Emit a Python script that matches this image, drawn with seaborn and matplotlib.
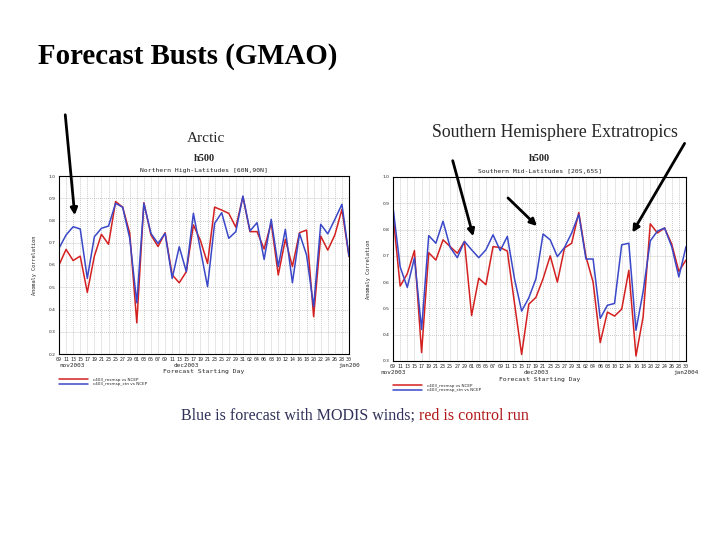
import numpy as np
import matplotlib.pyplot as plt
import pandas as pd
import seaborn as sns

sns.set_style("white")
plt.rcParams['font.family'] = ['DejaVu Sans']

# forecast starting days (every 2 days, 09 nov 2003 .. 30 jan 2004)
day_labels = ['09', '11', '13', '15', '17', '19', '21', '23', '25', '27', '29',
              '01', '03', '05', '07', '09', '11', '13', '15', '17', '19', '21',
              '23', '25', '27', '29', '31',
              '02', '04', '06', '08', '10', '12', '14', '16', '18', '20', '22',
              '24', '26', '28', '30']

# Arctic, h500 anomaly correlation
arctic_ctrl = [0.60, 0.67, 0.62, 0.64, 0.477, 0.64, 0.738, 0.693, 0.885, 0.86,
               0.743, 0.34, 0.88, 0.735, 0.683, 0.745, 0.556, 0.52, 0.57, 0.78,
               0.71, 0.607, 0.86, 0.847, 0.832, 0.77, 0.907, 0.75, 0.75, 0.672,
               0.79, 0.555, 0.715, 0.593, 0.745, 0.757, 0.368, 0.73, 0.667, 0.735,
               0.85, 0.638]
arctic_modis = [0.675, 0.735, 0.772, 0.762, 0.54, 0.727, 0.765, 0.775, 0.877, 0.86,
                0.72, 0.43, 0.877, 0.742, 0.697, 0.742, 0.54, 0.682, 0.57, 0.832,
                0.668, 0.503, 0.787, 0.835, 0.72, 0.75, 0.91, 0.753, 0.79, 0.625,
                0.805, 0.593, 0.76, 0.52, 0.742, 0.645, 0.413, 0.783, 0.74, 0.805,
                0.873, 0.64]

# Southern mid-latitudes
south_ctrl = [0.858, 0.585, 0.632, 0.72, 0.332, 0.712, 0.684, 0.761, 0.735, 0.71,
              0.755, 0.473, 0.615, 0.59, 0.735, 0.732, 0.718, 0.52, 0.325, 0.516,
              0.542, 0.613, 0.70, 0.60, 0.73, 0.748, 0.865, 0.697, 0.60, 0.37,
              0.486, 0.471, 0.497, 0.645, 0.319, 0.468, 0.822, 0.787, 0.806, 0.745,
              0.641, 0.684]
south_modis = [0.885, 0.658, 0.58, 0.693, 0.42, 0.777, 0.748, 0.832, 0.732, 0.693,
               0.755, 0.723, 0.693, 0.723, 0.78, 0.72, 0.774, 0.613, 0.49, 0.54,
               0.613, 0.783, 0.761, 0.697, 0.732, 0.787, 0.858, 0.688, 0.688, 0.462,
               0.512, 0.519, 0.742, 0.748, 0.417, 0.564, 0.757, 0.794, 0.806, 0.735,
               0.62, 0.735]

RED = '#d42020'
BLUE = '#3a48c8'

fig = plt.figure(figsize=(7.2, 5.4), dpi=100)
fig.patch.set_facecolor('white')


def px(x, y):
    # slide pixel -> figure fraction
    return (x / 720.0, 1 - y / 540.0)


def draw_panel(rect, ctrl, modis, ylo, region, dec_pos, jan_txt, leg_y):
    ax = fig.add_axes(rect)
    df = pd.DataFrame({'day': np.arange(len(day_labels)), 'ctrl': ctrl, 'modis': modis})
    sns.lineplot(data=df, x='day', y='ctrl', color=RED, lw=1.1, ax=ax,
                 label='c403_rnsmsp vs NCEP')
    sns.lineplot(data=df, x='day', y='modis', color=BLUE, lw=1.1, ax=ax,
                 label='c403_rnsmsp_ctn vs NCEP')
    ax.set_xlim(0, len(day_labels) - 1)
    ax.set_ylim(ylo, 1.0)
    ax.set_xticks(df['day'])
    ax.set_xticklabels(day_labels, fontsize=3.6, family='DejaVu Sans Mono')
    yt = np.round(np.arange(ylo, 1.001, 0.1), 1)
    ax.set_yticks(yt)
    ax.set_yticklabels(['%.1f' % v for v in yt], fontsize=3.2)
    ax.tick_params(axis='both', length=1.5, width=0.5, pad=1, direction='out')
    ax.grid(True, ls=':', color='#aaaaaa', lw=0.55)
    for s in ax.spines.values():
        s.set_color('black')
        s.set_linewidth(0.8)
    ax.set_xlabel('')
    ax.set_ylabel('Anomaly Correlation', fontsize=3.8, family='DejaVu Sans Mono', labelpad=8)
    tr = ax.get_xaxis_transform()
    ax.text(0, -0.05, 'nov2003', transform=tr, fontsize=4.3, family='DejaVu Sans Mono',
            ha='left' if jan_txt == 'jan200' else 'center', va='top')
    ax.text(dec_pos, -0.05, 'dec2003', transform=tr, fontsize=4.3, family='DejaVu Sans Mono',
            ha='center', va='top')
    ax.text(len(day_labels) - 1, -0.05, jan_txt, transform=tr, fontsize=4.3,
            family='DejaVu Sans Mono', ha='center', va='top')
    ax.text(0.5, -0.085, 'Forecast Starting Day', transform=ax.transAxes, fontsize=4.6,
            family='DejaVu Sans Mono', ha='center', va='top')
    ax.text(0.5, 1.075, 'h500', transform=ax.transAxes, fontsize=7.5,
            family='Liberation Serif', weight='bold', ha='center', va='bottom')
    ax.text(0.5, 1.015, region, transform=ax.transAxes, fontsize=4.6,
            family='DejaVu Sans Mono', ha='center', va='bottom')
    ax.legend(loc='upper left', bbox_to_anchor=(-0.005, leg_y), frameon=False,
              fontsize=3, handlelength=7, labelspacing=0.05, borderaxespad=0,
              handletextpad=1.2)
    return ax


ax1 = draw_panel([59 / 720, 1 - 354 / 540, 290 / 720, 178 / 540], arctic_ctrl, arctic_modis,
                 0.2, 'Northern High-Latitudes [60N,90N]', 18, 'jan200', -0.125)
ax2 = draw_panel([393 / 720, 1 - 361 / 540, 293 / 720, 184 / 540], south_ctrl, south_modis,
                 0.3, 'Southern Mid-Latitudes [20S,65S]', 20, 'jan2004', -0.115)

serif = 'Liberation Serif'
fig.text(*px(38, 57), 'Forecast Busts (GMAO)', fontsize=20.8, weight='bold',
         family=serif, color='black', ha='left', va='center')
fig.text(*px(206, 139), 'Arctic', fontsize=11, family=serif, ha='center', va='center')
fig.text(*px(555, 133), 'Southern Hemisphere Extratropics', fontsize=12.8, family=serif,
         ha='center', va='center')
t1 = fig.text(*px(181, 416), 'Blue is forecast with MODIS winds; ', fontsize=11.5,
              family=serif, color='#30305a', ha='left', va='center')
fig.canvas.draw()
bb = t1.get_window_extent()
fig.text(bb.x1 / fig.bbox.width, 1 - 416 / 540, 'red is control run', fontsize=11.5,
         family=serif, color='#b01818', ha='left', va='center')

# arrows pointing at the busts
for (x0, y0), (x1, y1) in [((65, 112), (75, 218)), ((452, 158), (474, 239)),
                           ((506, 196), (539, 228)), ((686, 141), (631, 235))]:
    fig.add_artist(plt.matplotlib.patches.FancyArrowPatch(
        px(x0, y0), px(x1, y1), transform=fig.transFigure, arrowstyle='-|>',
        mutation_scale=10, lw=2, color='black'))

fig.savefig('out.png', dpi=100)
